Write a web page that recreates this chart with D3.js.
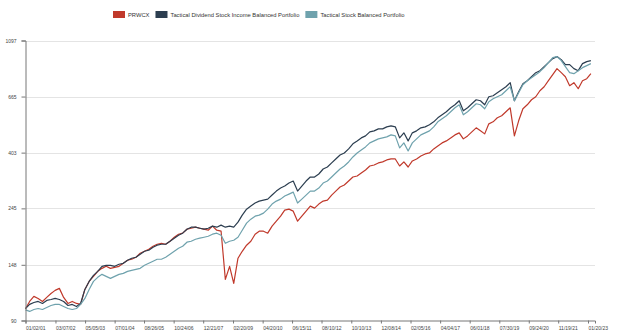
<!DOCTYPE html>
<html><head><meta charset="utf-8">
<script src="https://cdn.jsdelivr.net/npm/d3@7"></script>
<style>body{margin:0;background:#fff} svg{display:block;font-family:"Liberation Sans",Arial,sans-serif}</style>
</head><body><svg id="c" width="630" height="334"></svg>
<script>
const seriesNames = ["PRWCX", "Tactical Dividend Stock Income Balanced Portfolio", "Tactical Stock Balanced Portfolio"];
const seriesColors = ["#c0392b", "#2c3e50", "#6fa2ad"];
const startDate = "2001-01-02";
const stepMonths = 2;
const endDate = "2023-04-30";

const prwcx = [
100,106.7,111.6,109.6,106.7,110.6,
114.6,117.8,119.9,110.6,104.8,106.7,
104.8,103.9,118.8,127.6,133.5,139.6,
143.4,146,143.4,144.7,146,150,
154.1,155.5,158.3,164,167,170,
174.7,177.8,179.4,177.8,182.7,189.3,
194.5,196.3,203.4,205.2,207.1,205.2,
203.4,201.6,209,201.6,199.8,130,
146,125.4,157,167,176.3,182.7,
194.5,199.8,199.8,196.3,209,218.5,
228.5,241.2,243.3,239,218.5,228.5,
239,250,245.5,254.5,261.4,263.8,
275.9,285.9,296.4,301.7,312.7,324.1,
327,336,345.2,357.7,360.9,367.6,
371,377.5,380.9,380.9,357.7,371,
354.5,374.1,380.9,391.2,398.4,401.9,
416.6,427.9,439.6,447.5,459.7,472.2,
480.9,455.7,468,485.2,502.8,489.5,
476.5,521.2,530.6,550,560,580.3,
601.5,468,535.4,596.1,617.9,646.2,
663.8,700.5,726,766.1,808.4,853.1,
823.1,794,732.6,752.5,713.1,766.1,
780,815.7];

const tdsibp = [
100,103.9,105.7,106.7,104.8,107.7,
108.6,109.6,108.6,106.7,102.9,103.9,
102,104.8,118.8,127.6,134.7,139.6,
146,147.3,147.3,146,148.7,150,
154.1,156.9,158.3,162.6,167,168.5,
173.1,176.3,177.8,177.8,182.7,187.7,
192.7,196.3,203.4,207.1,207.1,205.2,
203.4,205.2,209,207.1,210.9,207.1,
209,207.1,216.6,230.6,243.3,250,
256.9,261.4,263.8,266.1,275.9,285.9,
293.7,299,307.2,312.7,285.9,299,
312.7,324.1,324.1,333,348.2,354.5,
367.6,380.9,394.7,401.9,416.6,436,
447.5,459.7,468,485.2,489.5,498.4,
498.4,507.4,512,507.4,459.7,480.9,
447.5,480.9,489.5,502.8,507.4,516.6,
530.6,550,565,580.3,601.5,617.9,
640.4,585.5,601.5,623.4,646.2,640.4,
617.9,663.8,669.8,688,706.8,726,
752.5,640.4,694.3,745.8,766.1,794,
823.1,837.9,868.5,900.2,933,950,
924.7,884.2,884.2,853.1,837.9,892.2,
908.3,916.5];

const tsbp = [
99,97.6,99.3,100.2,99.3,101.1,
102.9,103.9,103.9,102,100.2,99.3,
100.2,103.9,109.6,118.8,127.6,132.3,
135.9,133.5,131.1,133.5,135.9,137.1,
139.6,140.9,142.1,143.4,147.3,150,
152.7,155.5,155.5,158.3,162.6,167,
171.5,174.7,181.1,182.7,186,187.7,
189.3,191,194.5,196.3,192.7,179.4,
182.7,184.3,189.3,201.6,214.7,222.5,
228.5,230.6,234.8,243.3,254.5,261.4,
266.1,273.4,278.3,283.3,256.9,266.1,
275.9,285.9,285.9,293.7,307.2,312.7,
324.1,336,348.2,357.7,370.8,387.7,
401.9,412.9,424.1,439.6,447.5,455.7,
459.7,463.8,472.2,468,420.4,439.6,
409.2,439.6,455.7,472.2,480.9,489.5,
507.4,530.6,545.1,560,580.3,601.5,
617.9,565,580.3,601.5,623.4,617.9,
596.1,634.7,652,663.8,675.8,700.5,
726,640.4,688,739.2,766.1,787,
808.4,830.4,860.8,900.2,941.4,950,
916.5,868.5,823.1,815.7,837.9,860.8,
876.3,892.2];

const yTickValues = [90, 148, 245, 403, 665, 1097];
const xTickLabels = ["01/02/01","03/07/02","05/05/03","07/01/04","08/26/05","10/24/06","12/21/07","02/20/09","04/20/10","06/15/11","08/10/12","10/10/13","12/08/14","02/05/16","04/04/17","06/01/18","07/30/19","09/24/20","11/19/21","01/20/23"];

const svg = d3.select("#c");
const parseIso = d3.timeParse("%Y-%m-%d");
const parseTick = d3.timeParse("%m/%d/%y");
const start = parseIso(startDate);
const dates = prwcx.map((_, i) => d3.timeMonth.offset(start, i * stepMonths));

const x = d3.scaleTime().domain([start, parseIso(endDate)]).range([25.5, 595]);
const y = d3.scaleLog().domain([90, 1097]).range([320.5, 40.5]);

// gridlines
svg.append("g").selectAll("line").data(yTickValues.slice(1)).join("line")
  .attr("x1", 25.5).attr("x2", 595)
  .attr("y1", d => Math.round(y(d)) + 0.5).attr("y2", d => Math.round(y(d)) + 0.5)
  .attr("stroke", "#e4e4e4").attr("stroke-width", 1);

// lines
const allSeries = [prwcx, tdsibp, tsbp];
const line = d3.line().x((d, i) => x(dates[i])).y(d => y(d));
allSeries.forEach((s, k) => {
  svg.append("path").datum(s).attr("d", line)
    .attr("fill", "none").attr("stroke", seriesColors[k])
    .attr("stroke-width", 1.2).attr("stroke-linejoin", "round");
});

// axes
const yAxis = svg.append("g").attr("transform", "translate(25.5,0)")
  .call(d3.axisLeft(y).tickValues(yTickValues).tickFormat(d3.format("d")).tickSize(4).tickSizeOuter(4).tickPadding(5));
const xAxis = svg.append("g").attr("transform", "translate(0,320.5)")
  .call(d3.axisBottom(x).tickValues(xTickLabels.map(parseTick)).tickFormat(d3.timeFormat("%m/%d/%y")).tickSize(3).tickSizeOuter(3).tickPadding(3));
[yAxis, xAxis].forEach(g => {
  g.selectAll("path, line").attr("stroke", "#777");
  g.selectAll("text").attr("fill", "#444").style("font-size", "5px");
});
xAxis.selectAll("text").attr("text-anchor", "start");

// legend
const legend = svg.append("g");
let lx = 113;
seriesNames.forEach((name, k) => {
  legend.append("rect").attr("x", lx).attr("y", 11).attr("width", 12).attr("height", 7).attr("fill", seriesColors[k]);
  const t = legend.append("text").attr("x", lx + 15).attr("y", 16.6)
    .attr("fill", "#333").style("font-size", "5.8px").text(name);
  lx += 15 + t.node().getComputedTextLength() + 6;
});
</script></body></html>
